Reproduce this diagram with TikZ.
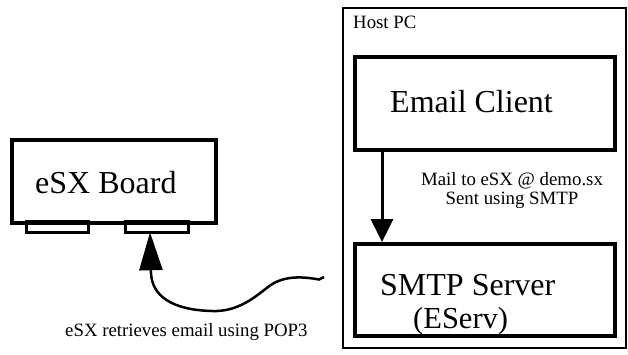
\documentclass[tikz,border=0pt]{standalone}
\usepackage{fontspec}
\setmainfont{Liberation Serif}
\usetikzlibrary{arrows.meta}
\begin{document}
\begin{tikzpicture}[x=1pt,y=-1pt,
  thickbox/.style={draw,line width=4pt,rectangle,inner sep=0pt},
  connbox/.style={draw,line width=3pt,rectangle,inner sep=0pt,minimum height=10.5pt},
  hostbox/.style={draw,line width=1.5pt,rectangle,inner sep=0pt},
  bigtext/.style={anchor=base west,inner sep=0pt,font=\fontsize{32}{36}\selectfont},
  smalltext/.style={inner sep=0pt,font=\fontsize{18.8}{19}\selectfont}]
\useasboundingbox (0,0) rectangle (628,354);
% Host PC
\node[hostbox,minimum width=283pt,minimum height=340pt] (host) at (484.5,178) {};
\node[smalltext,anchor=base west] (hostlbl) at (353,28) {Host PC};
% boxes
\node[thickbox,minimum width=260pt,minimum height=93pt] (email) at (485,103.5) {};
\node[bigtext] (emaillbl) at (390,112) {Email Client};
\node[thickbox,minimum width=260pt,minimum height=92pt] (smtp) at (485,290) {};
\node[bigtext] (smtplbl) at (380,295) {SMTP Server};
\node[anchor=base west,inner sep=0pt,font=\fontsize{30.5}{34}\selectfont] (eservlbl) at (413,328) {(EServ)};
% eSX board
\node[connbox,minimum width=62pt] (conn1) at (57.5,227) {};
\node[connbox,minimum width=63pt] (conn2) at (157,227) {};
\node[thickbox,minimum width=204pt,minimum height=83pt] (board) at (114,181.5) {};
\node[bigtext] (boardlbl) at (35,193) {eSX Board};
% arrow email -> smtp
\coordinate (arrx) at (382,0);
\draw[line width=3pt,-{Triangle[length=23pt,width=22pt]}] (email.south -| arrx) -- (smtp.north -| arrx);
\node[smalltext,align=center,anchor=base] (maillbl) at (512,204) {Mail to eSX @ demo.sx\\Sent using SMTP};
% cable arrow
\coordinate (cable) at (324,277);
\draw[line width=2.5pt,-{Triangle[length=38pt,width=23pt]}] (cable) -- (319,279.5)
  .. controls (300,276) and (282,276) .. (268,287)
  .. controls (255,297) and (238,312) .. (212,311)
  .. controls (172,310) and (152,296) .. (151,273)
  -- ([xshift=-7pt,yshift=1.5pt]conn2.south);
\node[smalltext,anchor=base west] (poplbl) at (65,336) {eSX retrieves email using POP3};
\end{tikzpicture}
\end{document}
